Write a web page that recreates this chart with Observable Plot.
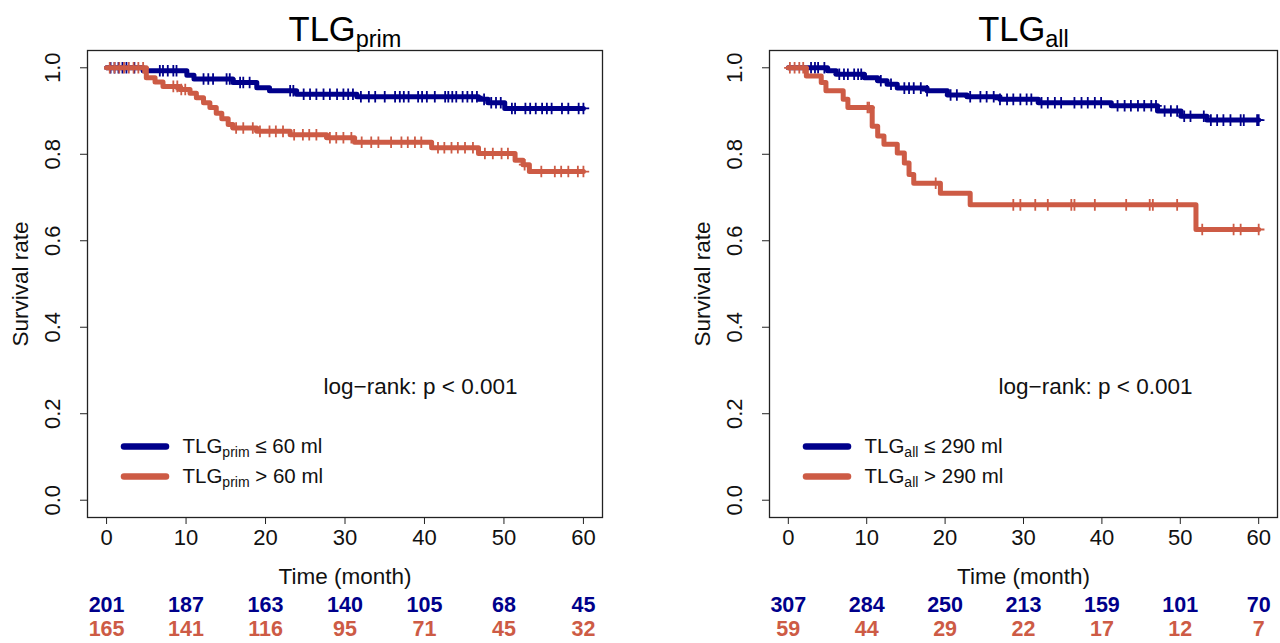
<!DOCTYPE html>
<html><head><meta charset="utf-8">
<script src="https://cdn.jsdelivr.net/npm/d3@7"></script>
<script src="https://cdn.jsdelivr.net/npm/@observablehq/plot@0.6"></script>
<style>
body{margin:0;background:#fff;}
#wrap{display:flex;width:1280px;height:643px;overflow:hidden;}
#wrap > div{width:640px;height:643px;}
</style></head><body><div id="wrap"><div id="left"></div><div id="right"></div></div>
<script>
const FONT = '"Liberation Sans", Arial, Helvetica, sans-serif';
const blueColor = "#00008B";
const redColor = "#CD5B45";
const xTicks = [0, 10, 20, 30, 40, 50, 60];
const yTicks = [0, 0.2, 0.4, 0.6, 0.8, 1.0];
const followUpEnd = 60;

// ---- Left panel: TLG_prim ----
const primLowTime = [0, 4.6, 10.1, 11.0, 15.9, 18.9, 20.5, 23.9, 31.5, 46.8, 48.0, 50.1];
const primLowSurv = [1.0, 0.993, 0.983, 0.974, 0.966, 0.954, 0.947, 0.939, 0.933, 0.927, 0.919, 0.906];
const primLowCensor = [0.5, 1, 1.5, 2, 2.5, 3.5, 6.7, 7.1, 7.7, 8.4, 8.8, 12.2, 12.8, 13.4, 15.1, 15.5, 16.8, 17.2, 18.0,
  23.1, 23.5, 24.8, 25.6, 26.4, 27.3, 28.1, 29.0, 29.8, 30.4, 31, 32, 33, 33.8, 35, 36.3, 36.9, 37.4, 38, 39.2, 39.7,
  40.3, 41.3, 42.6, 43, 43.5, 44, 44.8, 45.4, 46, 46.6, 47.5, 48.4, 49, 49.6, 51, 51.4, 52.7, 53.3, 54, 54.8, 55.4, 56,
  57.3, 58.1, 59.4, 60];
const primHighTime = [0, 5.0, 6.1, 7.1, 9.2, 10.5, 11.3, 12.2, 13.0, 13.8, 14.5, 15.3, 15.9, 18.9, 23.1, 27.7, 31.2, 40.9, 46.8, 51.4, 52.4, 53.2];
const primHighSurv = [1.0, 0.977, 0.967, 0.957, 0.950, 0.941, 0.931, 0.919, 0.908, 0.895, 0.882, 0.869, 0.861, 0.853, 0.845, 0.838, 0.828, 0.815, 0.802, 0.786, 0.776, 0.760];
const primHighCensor = [0.4, 1, 1.6, 2.2, 2.8, 3.4, 4.0, 4.6, 8.4, 8.9, 9.4, 9.9, 16.3, 17.2, 18.4, 19.3, 20.5, 21.3, 22.2,
  23.6, 24.7, 25.5, 26.4, 28.1, 28.9, 29.8, 30.8, 32.1, 33.3, 34.2, 35.8, 37.1, 37.9, 38.8, 39.6, 41.7, 42.5, 43.4, 44.2,
  45.1, 46.1, 47.6, 48.6, 49.7, 50.5, 52.6, 54.7, 56.4, 57.2, 58.1, 59.3, 60];
const primLowRisk = [201, 187, 163, 140, 105, 68, 45];
const primHighRisk = [165, 141, 116, 95, 71, 45, 32];

// ---- Right panel: TLG_all ----
const allLowTime = [0, 5.0, 6.1, 9.7, 11.4, 12.6, 13.9, 17.7, 20.3, 22.8, 27.0, 31.9, 41.2, 47.1, 50.1, 53.4];
const allLowSurv = [1.0, 0.993, 0.985, 0.977, 0.970, 0.962, 0.953, 0.947, 0.937, 0.933, 0.927, 0.919, 0.912, 0.900, 0.888, 0.879];
const allLowCensor = [2.9, 3.4, 3.8, 4.6, 6.5, 7.1, 7.6, 8.4, 8.9, 9.3, 11.8, 13.1, 14.8, 15.4, 16.0, 16.9, 17.7, 20.7, 21.5,
  23.2, 24.5, 25.3, 26.2, 27.0, 27.9, 28.7, 29.6, 30.4, 31.0, 32.3, 33.1, 34.0, 34.8, 36.5, 37.4, 38.2, 39.1, 39.9, 42.0,
  42.9, 43.7, 44.6, 45.4, 46.3, 46.9, 48.0, 48.8, 49.6, 50.5, 51.3, 53.0, 53.9, 54.7, 55.5, 56.4, 57.7, 58.1, 59.8, 60];
const allHighTime = [0, 2.3, 4.2, 4.8, 7.0, 7.6, 10.7, 11.4, 12.2, 13.9, 14.8, 15.4, 16.0, 19.4, 23.2, 52.0];
const allHighSurv = [1.0, 0.981, 0.966, 0.947, 0.927, 0.908, 0.865, 0.842, 0.823, 0.803, 0.780, 0.753, 0.733, 0.710, 0.683, 0.626];
const allHighCensor = [0.2, 0.8, 1.4, 1.9, 10.1, 10.3, 18.8, 28.7, 29.6, 31.5, 33.1, 36.1, 36.5, 39.1, 43.1, 46.1, 46.5, 49.6, 52.8, 56.8, 57.7, 60];
const allLowRisk = [307, 284, 250, 213, 159, 101, 70];
const allHighRisk = [59, 44, 29, 22, 17, 12, 7];

const pText = "log\u2212rank: p < 0.001";

// ---- helpers ----
const canvas = document.createElement("canvas");
const ctx = canvas.getContext("2d");
function textWidth(s, size, weight = "normal") {
  ctx.font = `${weight} ${size}px ${FONT}`;
  return ctx.measureText(s).width;
}
function stepRows(time, surv) {
  const rows = time.map((t, i) => ({t, s: surv[i]}));
  rows.push({t: followUpEnd, s: surv[surv.length - 1]});
  return rows;
}
function survAt(time, surv, t) {
  let k = 0;
  for (let i = 0; i < time.length; i++) if (time[i] <= t) k = i;
  return surv[k];
}
const legendLine = {
  draw(c, size) {
    const r = Math.sqrt(size / Math.PI);
    c.moveTo(-r, 0);
    c.lineTo(r, 0);
  }
};

function panel(cfg) {
  const titleMain = 34.5, titleSub = 23.5;
  const wMain = textWidth("TLG", titleMain), wSub = textWidth(cfg.sub, titleSub);
  const tTotal = wMain + wSub;
  const legMain = 20.5, legSub = 14;
  const wLegMain = textWidth("TLG", legMain), wLegSub = textWidth(cfg.sub, legSub);
  const legX = 95;
  const tick = 22, lab = 22.5;
  const groups = [
    {name: "low", time: cfg.lowTime, surv: cfg.lowSurv, censor: cfg.lowCensor, color: blueColor, rest: " \u2264 " + cfg.cut + " ml", risk: cfg.lowRisk, legDy: -71, riskDy: 88},
    {name: "high", time: cfg.highTime, surv: cfg.highSurv, censor: cfg.highCensor, color: redColor, rest: " > " + cfg.cut + " ml", risk: cfg.highRisk, legDy: -41, riskDy: 112}
  ];
  const marks = [Plot.frame({stroke: "#222", strokeWidth: 1.3})];
  marks.push(Plot.axisX({ticks: xTicks, tickSize: 7, tickPadding: 5, fontSize: tick, label: null, stroke: "#222"}));
  marks.push(Plot.axisY({ticks: yTicks, tickSize: 7, tickFormat: () => "", label: null, stroke: "#222"}));
  marks.push(Plot.text(yTicks, {y: d => d, text: d => d.toFixed(1), frameAnchor: "left", dx: -35, rotate: -90, textAnchor: "middle", lineAnchor: "middle", fontSize: tick, fill: "#111"}));
  marks.push(Plot.text(["Survival rate"], {frameAnchor: "left", dx: -67, rotate: -90, textAnchor: "middle", lineAnchor: "middle", fontSize: lab, fill: "#111"}));
  marks.push(Plot.text(["Time (month)"], {frameAnchor: "bottom", dy: 59, lineAnchor: "middle", fontSize: lab, fill: "#111"}));
  // title
  marks.push(Plot.text(["TLG"], {frameAnchor: "top", dx: wMain - tTotal / 2, dy: -10, textAnchor: "end", lineAnchor: "bottom", fontSize: titleMain, fill: "#000"}));
  marks.push(Plot.text([cfg.sub], {frameAnchor: "top", dx: wMain - tTotal / 2, dy: -4, textAnchor: "start", lineAnchor: "bottom", fontSize: titleSub, fill: "#000"}));
  // log-rank
  marks.push(Plot.text([pText], {frameAnchor: "bottom-right", dx: -85, dy: -131, textAnchor: "end", lineAnchor: "middle", fontSize: lab, fill: "#111"}));
  for (const g of groups) {
    marks.push(Plot.line(stepRows(g.time, g.surv), {x: "t", y: "s", curve: "step-after", stroke: g.color, strokeWidth: 5}));
    marks.push(Plot.dot(g.censor, {x: d => d, y: d => survAt(g.time, g.surv, d), symbol: "plus", r: 3.8, stroke: g.color, strokeWidth: 1.8}));
  }
  for (const g of groups) {
    // legend
    marks.push(Plot.dot([g.name], {frameAnchor: "bottom-left", dx: 57.5, dy: g.legDy, r: 21, symbol: legendLine, fill: "none", stroke: g.color, strokeWidth: 6.5, strokeLinecap: "round"}));
    marks.push(Plot.text(["TLG"], {frameAnchor: "bottom-left", dx: legX, dy: g.legDy, textAnchor: "start", lineAnchor: "middle", fontSize: legMain, fill: "#111"}));
    marks.push(Plot.text([cfg.sub], {frameAnchor: "bottom-left", dx: legX + wLegMain, dy: g.legDy + 6, textAnchor: "start", lineAnchor: "middle", fontSize: legSub, fill: "#111"}));
    marks.push(Plot.text([g.rest], {frameAnchor: "bottom-left", dx: legX + wLegMain + wLegSub, dy: g.legDy, textAnchor: "start", lineAnchor: "middle", fontSize: legMain, fill: "#111"}));
    // numbers at risk
    marks.push(Plot.text(xTicks, {x: d => d, text: (d, i) => g.risk[i], frameAnchor: "bottom", dy: g.riskDy, lineAnchor: "middle", fontSize: 21.5, fontWeight: "bold", fill: g.color}));
  }
  return Plot.plot({
    width: 640, height: 643,
    marginLeft: cfg.ml, marginRight: cfg.mr, marginTop: 50, marginBottom: 126,
    x: {domain: [-2.4, 62.4], axis: null},
    y: {domain: [-0.04, 1.04], axis: null},
    style: {fontFamily: FONT, color: "#111", background: "#fff", overflow: "visible"},
    marks
  });
}

document.getElementById("left").append(panel({
  sub: "prim", cut: 60, ml: 87, mr: 38,
  lowTime: primLowTime, lowSurv: primLowSurv, lowCensor: primLowCensor, lowRisk: primLowRisk,
  highTime: primHighTime, highSurv: primHighSurv, highCensor: primHighCensor, highRisk: primHighRisk
}));
document.getElementById("right").append(panel({
  sub: "all", cut: 290, ml: 129, mr: 3,
  lowTime: allLowTime, lowSurv: allLowSurv, lowCensor: allLowCensor, lowRisk: allLowRisk,
  highTime: allHighTime, highSurv: allHighSurv, highCensor: allHighCensor, highRisk: allHighRisk
}));
</script></body></html>
